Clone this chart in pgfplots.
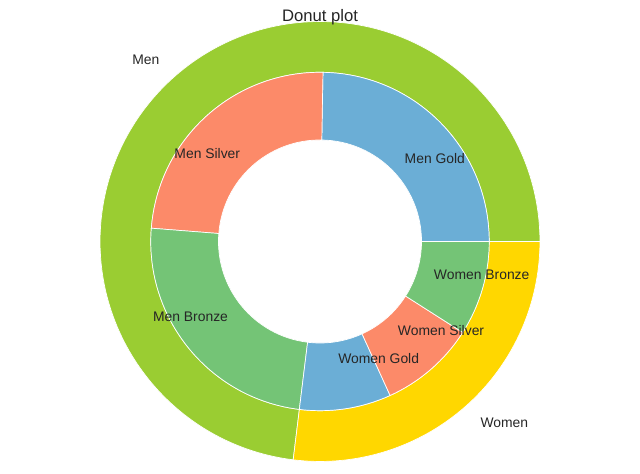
\documentclass[border=0pt]{standalone}
\usepackage{fontspec}
\setmainfont{Liberation Sans}
\usepackage{pgfplots}
\usepackage{pgfplotstable}
\pgfplotsset{compat=1.18}

\definecolor{menc}{HTML}{9ACD32}
\definecolor{womenc}{HTML}{FFD700}
\definecolor{goldc}{HTML}{6BAED6}
\definecolor{silverc}{HTML}{FC8A69}
\definecolor{bronzec}{HTML}{74C476}
\definecolor{txt}{HTML}{262626}

% outer ring
\pgfplotstableread[col sep=comma]{
name,value,color
Men,263,menc
Women,97,womenc
}\outerdata

% inner ring
\pgfplotstableread[col sep=comma]{
name,value,color
Men Gold,89,goldc
Men Silver,86.5,silverc
Men Bronze,87.5,bronzec
Women Gold,31.5,goldc
Women Silver,33,silverc
Women Bronze,32.5,bronzec
}\innerdata

\def\R{121.82}      % pt per pie radius unit
\def\cx{320}\def\cy{232.5}

\tikzset{lbl/.style={font=\fontsize{10}{12}\selectfont, text=txt, inner sep=0pt}}

% #1 table, #2 outer radius, #3 ring width
\newcommand\ringwedges[3]{%
  \pgfplotstablegetrowsof{#1}\pgfmathtruncatemacro\N{\pgfplotsretval-1}%
  \def\tot{0}%
  \pgfplotsforeachungrouped \i in {0,...,\N}{%
    \pgfplotstablegetelem{\i}{value}\of{#1}%
    \pgfmathsetmacro\tot{\tot+\pgfplotsretval}}%
  \def\acc{0}%
  \pgfplotsforeachungrouped \i in {0,...,\N}{%
    \pgfplotstablegetelem{\i}{value}\of{#1}\let\v\pgfplotsretval
    \pgfplotstablegetelem{\i}{color}\of{#1}\let\c\pgfplotsretval
    \pgfmathsetmacro\a{\acc}%
    \pgfmathsetmacro\b{\acc+\v/\tot*360}%
    \pgfmathsetmacro\bb{\b+180}%
    \pgfmathsetmacro\ro{#2*\R}%
    \pgfmathsetmacro\ri{(#2-#3)*\R}%
    \pgfmathsetmacro\w{#3*\R}%
    \edef\temp{\noexpand\fill[\c,draw=white,line width=0.5pt]
      (axis cs:\cx,\cy) ++(\a:\ro pt) arc[start angle=\a,end angle=\b,radius=\ro pt]
      -- ++(\bb:\w pt) arc[start angle=\b,end angle=\a,radius=\ri pt] -- cycle;}%
    \temp
    \let\acc\b
  }}

% #1 table, #2 label distance (radius units)
\newcommand\ringlabels[2]{%
  \pgfplotstablegetrowsof{#1}\pgfmathtruncatemacro\N{\pgfplotsretval-1}%
  \def\tot{0}%
  \pgfplotsforeachungrouped \i in {0,...,\N}{%
    \pgfplotstablegetelem{\i}{value}\of{#1}%
    \pgfmathsetmacro\tot{\tot+\pgfplotsretval}}%
  \def\acc{0}%
  \pgfplotsforeachungrouped \i in {0,...,\N}{%
    \pgfplotstablegetelem{\i}{value}\of{#1}\let\v\pgfplotsretval
    \pgfplotstablegetelem{\i}{name}\of{#1}\let\nm\pgfplotsretval
    \pgfmathsetmacro\b{\acc+\v/\tot*360}%
    \pgfmathsetmacro\m{(\acc+\b)/2}%
    \pgfmathsetmacro\ld{#2*\R}%
    \pgfmathparse{cos(\m)>0?1:0}%
    \ifnum\pgfmathresult=1 \def\an{west}\else\def\an{east}\fi
    \edef\temp{\noexpand\path (axis cs:\cx,\cy) ++(\m:\ld pt) node[lbl,anchor=\an] {\nm};}%
    \temp
    \let\acc\b
  }}

\begin{document}
\begin{tikzpicture}
\useasboundingbox (0,0) rectangle (460.8pt,341.28pt);
\begin{axis}[
    scale only axis,
    width=460.8pt, height=341.28pt,
    xmin=0, xmax=640, ymin=0, ymax=474,
    hide axis, clip=false,
]
\ringwedges{\outerdata}{1.3}{0.3}
\ringwedges{\innerdata}{1.0}{0.4}
\ringlabels{\outerdata}{1.43}
\ringlabels{\innerdata}{0.7}
\node[font=\fontsize{12}{14}\selectfont, text=txt, anchor=base, inner sep=0pt]
  at (axis cs:320,452.3) {Donut plot};
\end{axis}
\end{tikzpicture}
\end{document}
